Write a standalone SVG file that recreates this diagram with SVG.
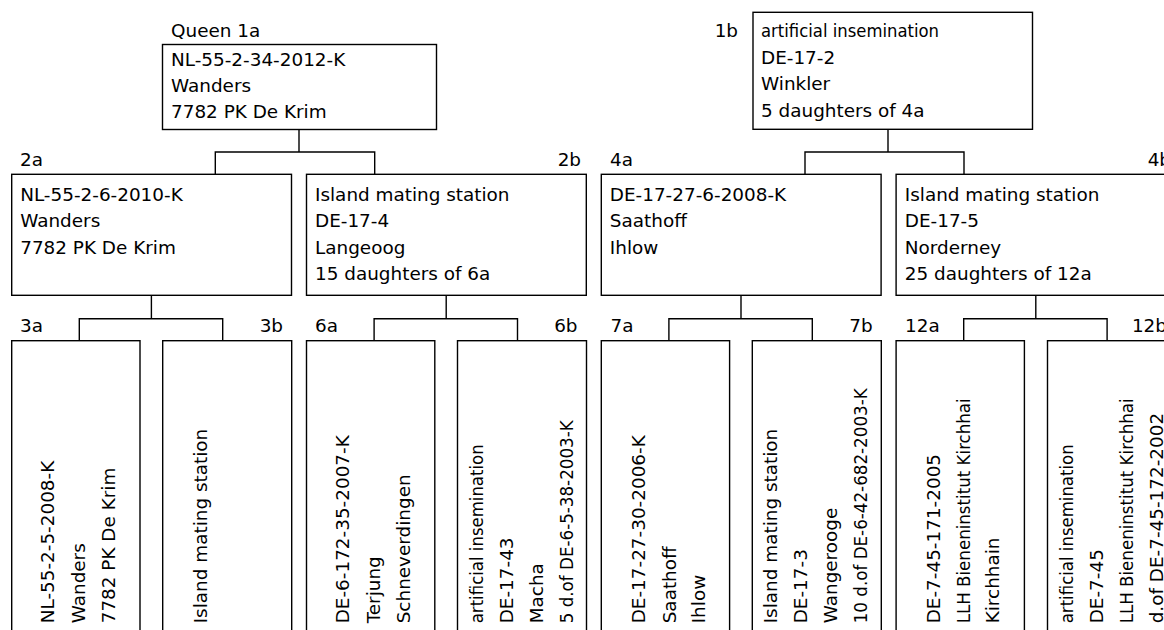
<svg xmlns="http://www.w3.org/2000/svg" width="1164" height="630" viewBox="0 0 1164 630">
<style>
.box{fill:#fff;stroke:#000;stroke-width:1.4}
.con{fill:none;stroke:#000;stroke-width:1.4}
text{font-family:"DejaVu Sans","Liberation Sans",sans-serif;font-size:18.4px;fill:#000}
.e{text-anchor:end}
</style>
<rect width="1164" height="630" fill="#fff"/>
<g id="connectors" class="con">
<path d="M299,129.5V152M215.3,174.3V152H374.7V174.3"/>
<path d="M888,129.3V152M805,174.3V152H964V174.3"/>
<path d="M151.4,295.3V318.7M79.3,340.7V318.7H222.7V340.7"/>
<path d="M446.2,295.3V318.7M374.1,340.7V318.7H517.5V340.7"/>
<path d="M741,295.3V318.7M668.9,340.7V318.7H812.3V340.7"/>
<path d="M1035.8,295.3V318.7M963.7,340.7V318.7H1107.1V340.7"/>
</g>
<g id="n1a">
<text x="171" y="36.5">Queen 1a</text>
<rect class="box" x="162.5" y="44.5" width="274" height="85"/>
<text x="171" y="65.7">NL-55-2-34-2012-K</text>
<text x="171" y="92">Wanders</text>
<text x="171" y="118.3">7782 PK De Krim</text>
</g>
<g id="n1b">
<text class="e" x="738" y="37">1b</text>
<rect class="box" x="753" y="12.3" width="279.5" height="117"/>
<text x="761" y="37.3" textLength="178" lengthAdjust="spacingAndGlyphs">artificial insemination</text>
<text x="761" y="64">DE-17-2</text>
<text x="761" y="90.3">Winkler</text>
<text x="761" y="116.7">5 daughters of 4a</text>
</g>
<g id="n2a">
<text x="20" y="165.5">2a</text>
<rect class="box" x="11.7" y="174.3" width="279.8" height="121"/>
<text x="20.2" y="200.5">NL-55-2-6-2010-K</text>
<text x="20.2" y="227">Wanders</text>
<text x="20.2" y="253.5">7782 PK De Krim</text>
</g>
<g id="n2b">
<text class="e" x="581" y="165.5">2b</text>
<rect class="box" x="306.5" y="174.3" width="279.8" height="121"/>
<text x="315" y="200.5">Island mating station</text>
<text x="315" y="227">DE-17-4</text>
<text x="315" y="253.5">Langeoog</text>
<text x="315" y="280">15 daughters of 6a</text>
</g>
<g id="n4a">
<text x="610" y="165.5">4a</text>
<rect class="box" x="601.3" y="174.3" width="279.8" height="121"/>
<text x="609.8" y="200.5">DE-17-27-6-2008-K</text>
<text x="609.8" y="227">Saathoff</text>
<text x="609.8" y="253.5">Ihlow</text>
</g>
<g id="n4b">
<text class="e" x="1171" y="165.5">4b</text>
<rect class="box" x="896.1" y="174.3" width="279.8" height="121"/>
<text x="904.8" y="200.5">Island mating station</text>
<text x="904.8" y="227">DE-17-5</text>
<text x="904.8" y="253.5">Norderney</text>
<text x="904.8" y="280">25 daughters of 12a</text>
</g>
<g id="n3a">
<text x="20" y="332.3">3a</text>
<rect class="box" x="11.7" y="340.7" width="128.3" height="300"/>
<text transform="translate(54.4,623.3) rotate(-90)">NL-55-2-5-2008-K</text>
<text transform="translate(85,623.3) rotate(-90)">Wanders</text>
<text transform="translate(115,623.3) rotate(-90)">7782 PK De Krim</text>
</g>
<g id="n3b">
<text class="e" x="283" y="332.3">3b</text>
<rect class="box" x="162.7" y="340.7" width="129" height="300"/>
<text transform="translate(207,623.3) rotate(-90)">Island mating station</text>
</g>
<g id="n6a">
<text x="315" y="332.3">6a</text>
<rect class="box" x="306.5" y="340.7" width="128.3" height="300"/>
<text transform="translate(349.2,623.3) rotate(-90)">DE-6-172-35-2007-K</text>
<text transform="translate(379.8,623.3) rotate(-90)">Terjung</text>
<text transform="translate(409.8,623.3) rotate(-90)">Schneverdingen</text>
</g>
<g id="n6b">
<text class="e" x="577.5" y="332.3">6b</text>
<rect class="box" x="457.5" y="340.7" width="129" height="300"/>
<text transform="translate(482.7,623.3) rotate(-90)" textLength="179" lengthAdjust="spacingAndGlyphs">artificial insemination</text>
<text transform="translate(512.7,623.3) rotate(-90)">DE-17-43</text>
<text transform="translate(542.7,623.3) rotate(-90)">Macha</text>
<text transform="translate(572.7,623.3) rotate(-90)" textLength="203" lengthAdjust="spacingAndGlyphs">5 d.of DE-6-5-38-2003-K</text>
</g>
<g id="n7a">
<text x="610.5" y="332.3">7a</text>
<rect class="box" x="601.3" y="340.7" width="128.3" height="300"/>
<text transform="translate(644.5,623.3) rotate(-90)">DE-17-27-30-2006-K</text>
<text transform="translate(675.5,623.3) rotate(-90)">Saathoff</text>
<text transform="translate(705,623.3) rotate(-90)">Ihlow</text>
</g>
<g id="n7b">
<text class="e" x="872.7" y="332.3">7b</text>
<rect class="box" x="752.3" y="340.7" width="129" height="300"/>
<text transform="translate(777.4,623.3) rotate(-90)">Island mating station</text>
<text transform="translate(807.4,623.3) rotate(-90)">DE-17-3</text>
<text transform="translate(837.4,623.3) rotate(-90)">Wangerooge</text>
<text transform="translate(867.4,623.3) rotate(-90)" textLength="235" lengthAdjust="spacingAndGlyphs">10 d.of DE-6-42-682-2003-K</text>
</g>
<g id="n12a">
<text x="905" y="332.3">12a</text>
<rect class="box" x="896.1" y="340.7" width="128.3" height="300"/>
<text transform="translate(939.5,623.3) rotate(-90)">DE-7-45-171-2005</text>
<text transform="translate(970,623.3) rotate(-90)" textLength="225" lengthAdjust="spacingAndGlyphs">LLH Bieneninstitut Kirchhai</text>
<text transform="translate(999.4,623.3) rotate(-90)">Kirchhain</text>
</g>
<g id="n12b">
<text class="e" x="1167" y="332.3">12b</text>
<rect class="box" x="1047.5" y="340.7" width="129" height="300"/>
<text transform="translate(1072.5,623.3) rotate(-90)" textLength="179" lengthAdjust="spacingAndGlyphs">artificial insemination</text>
<text transform="translate(1102.5,623.3) rotate(-90)">DE-7-45</text>
<text transform="translate(1132.5,623.3) rotate(-90)" textLength="225" lengthAdjust="spacingAndGlyphs">LLH Bieneninstitut Kirchhai</text>
<text transform="translate(1162.5,623.3) rotate(-90)">d.of DE-7-45-172-2002</text>
</g>
</svg>
